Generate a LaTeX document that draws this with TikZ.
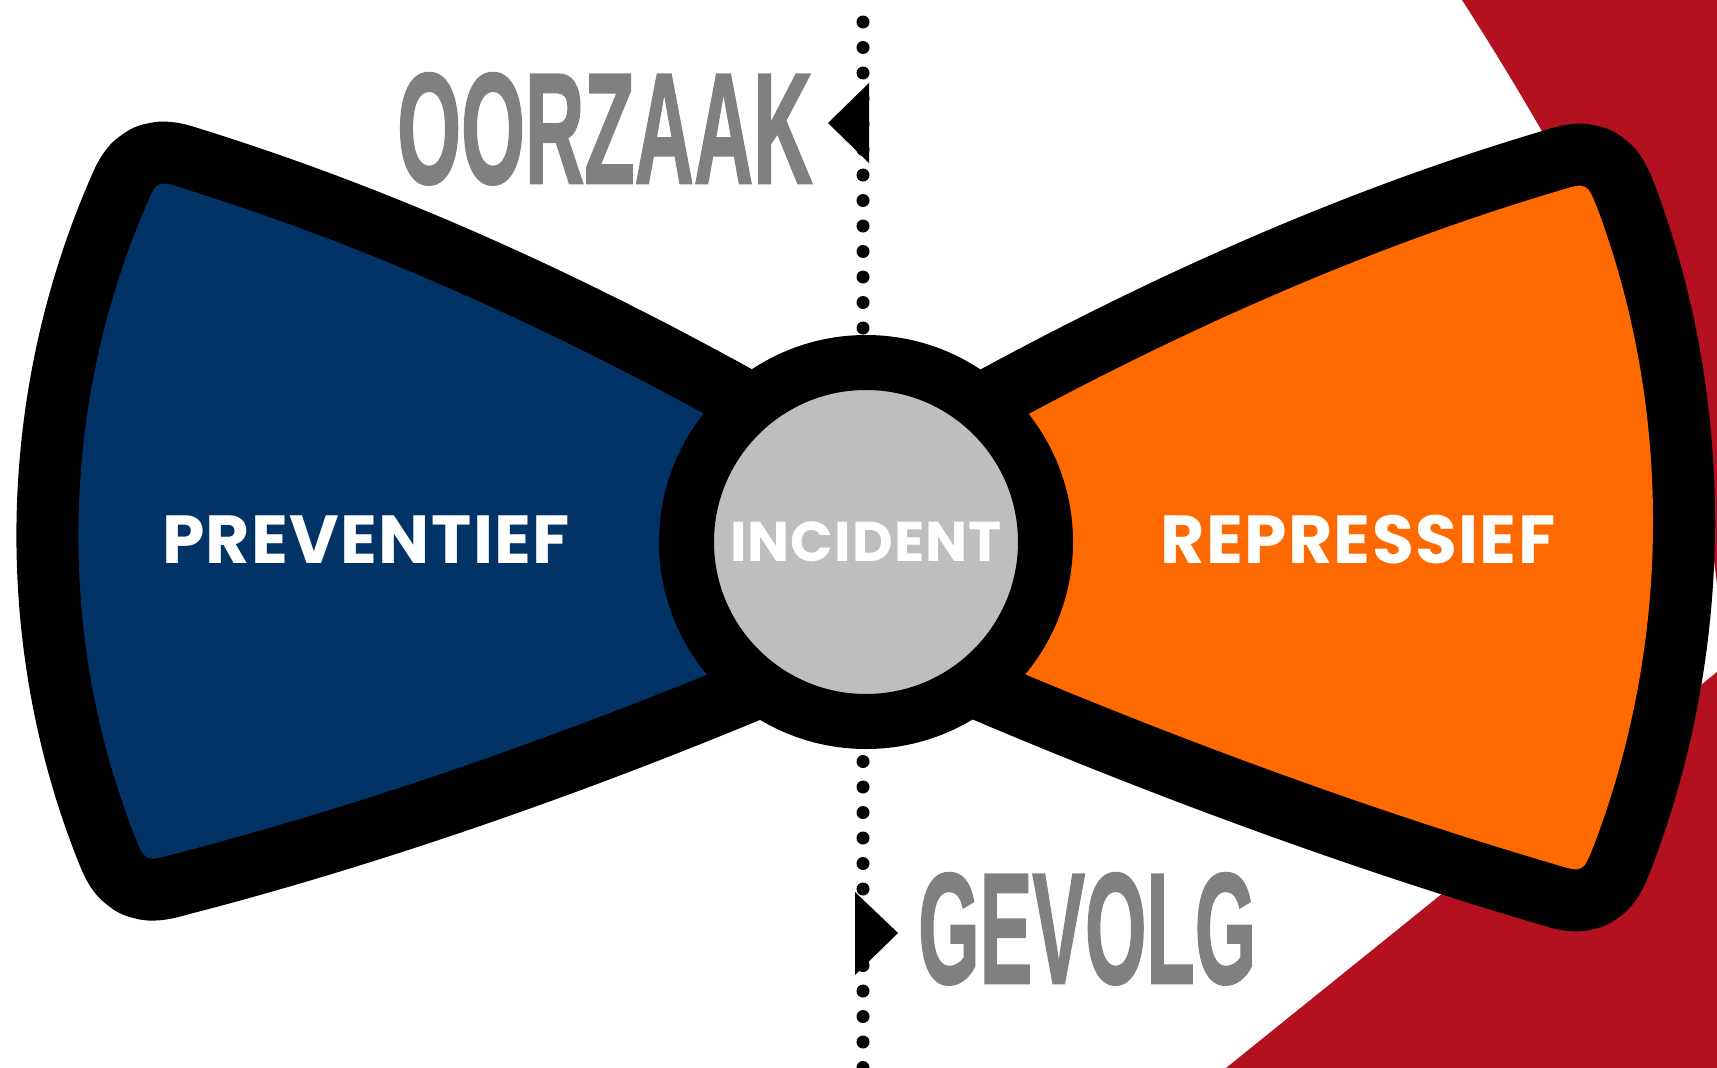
\documentclass[tikz,border=0pt]{standalone}
\usepackage{fontspec}
\newfontfamily\headfont{Liberation Sans}[BoldFeatures={FakeBold=1.5}]
\newfontfamily\wordfont{Poppins}[LetterSpace=2]
\usepackage{tikz}
\usetikzlibrary{calc}
\tikzset{>=latex}
\definecolor{bowblue}{HTML}{013366}
\definecolor{boworange}{HTML}{FF6A00}
\definecolor{bowred}{HTML}{B3111F}
\definecolor{incgray}{HTML}{BEBEBE}
\definecolor{causegray}{HTML}{808080}
\tikzset{
  wing/.style={preaction={draw=black, line width=124pt, line join=round}},
  axisdots/.style={line width=13pt, line cap=round, dash pattern=on 0pt off 25.5pt},
  causetext/.style={text=causegray, inner sep=0pt, font=\headfont\bfseries\fontsize{158}{158}\selectfont},
  sidetext/.style={text=white, inner sep=0pt, font=\wordfont\bfseries\fontsize{68}{68}\selectfont},
}

\begin{document}
\begin{tikzpicture}[x=1pt, y=-1pt]
    \useasboundingbox (0,0) rectangle (1717,1068);
    \fill[white] (0,0) rectangle (1717,1068);
    \fill[bowred] (1462,0) .. controls (1600,215) and (1700,420) .. (1717,585) -- (1717,0) -- cycle;
    \fill[bowred] (1717,672) -- (1226,1068) -- (1717,1068) -- cycle;

    \coordinate (top) at (863,22);
    \coordinate (bottom) at (863,1090);
    \draw[axisdots] (top) -- (bottom);
    \fill (869,83) -- (869,163) -- (828,123) -- cycle;
    \fill (855,892) -- (855,975) -- (898,933) -- cycle;

    \node[causetext, anchor=south west] (cause) at (397,185) {\scalebox{0.52}[1]{OORZAAK}};
    \node[causetext, anchor=south west] (effect) at (918,985) {\scalebox{0.5}[1]{GEVOLG}};

    \path[wing, fill=bowblue] (185,189) .. controls (380,250) and (579,340) .. (790,462) -- (790,640)
      .. controls (575,732) and (360,806) .. (174,854) .. controls (145,862) .. (134,834)
      .. controls (58,640) and (58,410) .. (146,206) .. controls (157,180) .. (185,189) -- cycle;
    \path[wing, fill=boworange] (945,460) .. controls (1159,339) and (1360,250) .. (1558,191)
      .. controls (1587,182) .. (1598,210) .. controls (1672,410) and (1672,640) .. (1594,845)
      .. controls (1583,873) .. (1554,864) .. controls (1370,810) and (1158,733) .. (945,640) -- cycle;

    \node[circle, draw=black, line width=55pt, fill=incgray, minimum size=359pt, inner sep=0pt] (incident) at (866,542) {};

    \node[sidetext] (prev) at (366,540) {PREVENTIEF};
    \node[sidetext] (rep) at (1358,540) {REPRESSIEF};
    \node[sidetext, font=\wordfont\bfseries\fontsize{56}{56}\selectfont] (inc) at (incident.center) {INCIDENT};
\end{tikzpicture}
\end{document}
